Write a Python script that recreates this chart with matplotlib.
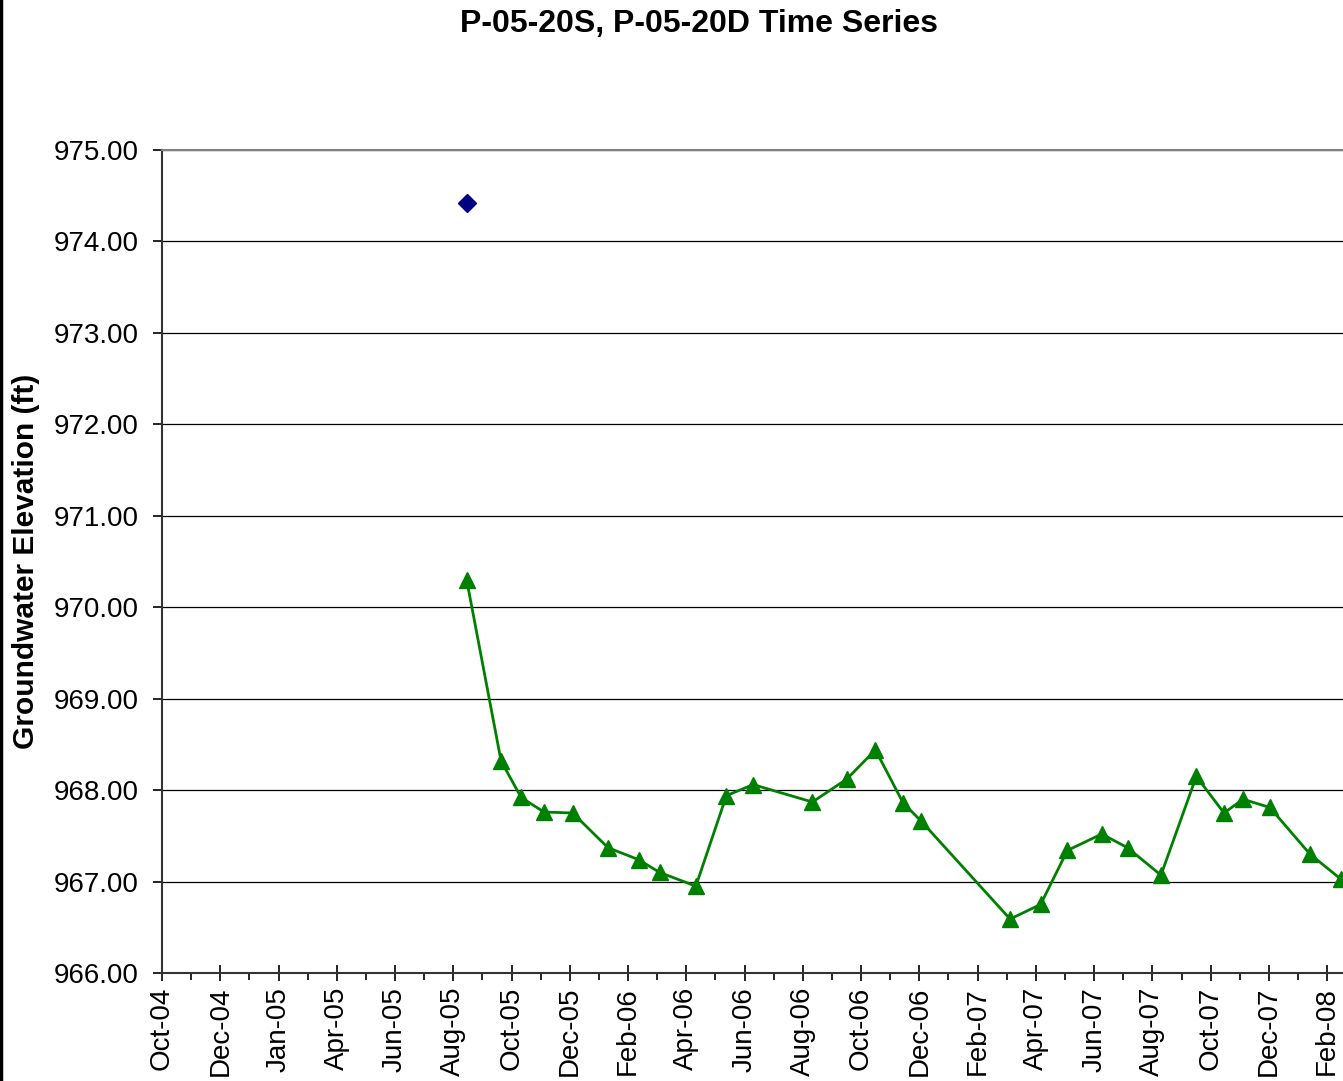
import datetime as dt
import matplotlib
matplotlib.use("Agg")
import matplotlib.pyplot as plt
import matplotlib.dates as mdates
from matplotlib.lines import Line2D

plt.rcParams["font.family"] = ["Liberation Sans", "DejaVu Sans"]

# P-05-20S (single reading)
shallow_dates = ["2005-08-16"]
shallow_elev = [974.42]

# P-05-20D
deep_dates = [
    "2005-08-16", "2005-09-21", "2005-10-12", "2005-11-05", "2005-12-05",
    "2006-01-11", "2006-02-12", "2006-03-06", "2006-04-13", "2006-05-15",
    "2006-06-12", "2006-08-13", "2006-09-18", "2006-10-18", "2006-11-16",
    "2006-12-05", "2007-03-08", "2007-04-09", "2007-05-07", "2007-06-12",
    "2007-07-09", "2007-08-13", "2007-09-19", "2007-10-18", "2007-11-07",
    "2007-12-05", "2008-01-16", "2008-02-17",
]
deep_elev = [
    970.30, 968.32, 967.92, 967.76, 967.75,
    967.37, 967.24, 967.10, 966.95, 967.94,
    968.06, 967.87, 968.12, 968.44, 967.86,
    967.66, 966.59, 966.75, 967.34, 967.52,
    967.37, 967.07, 968.15, 967.75, 967.90,
    967.81, 967.30, 967.03,
]

to_dt = lambda s: dt.datetime.strptime(s, "%Y-%m-%d")

W, H = 1343, 1081
fig = plt.figure(figsize=(W / 100, H / 100), dpi=100)
ax = fig.add_axes([162 / W, 1 - 973 / H, (W - 162) / W + 0.001, (973 - 150) / H])

start = dt.datetime(2004, 10, 1)

# excel-style date axis: major unit 61 days, minor halfway
major = [start + dt.timedelta(days=61 * k) for k in range(21)]
minor = [start + dt.timedelta(days=61 * k + 30.5) for k in range(21)]
ax.set_xticks(mdates.date2num(major))
ax.set_xticks(mdates.date2num(minor), minor=True)
ax.xaxis.set_major_formatter(mdates.DateFormatter("%b-%y"))
ax.set_yticks([966 + i for i in range(10)])
ax.yaxis.set_major_formatter(plt.FuncFormatter(lambda v, p: f"{v:.2f}"))

# limits after ticks, set_xticks would widen them otherwise
ax.set_xlim(start, start + dt.timedelta(days=1238))
ax.set_ylim(966, 975)

ax.tick_params(axis="x", which="major", direction="inout", length=12, width=1.2,
               labelsize=20, rotation=90, pad=4)
ax.tick_params(axis="x", which="minor", direction="out", length=5, width=1.2)
ax.tick_params(axis="y", direction="out", length=6.5, width=1.2, labelsize=20, pad=10.5)

ax.grid(axis="y", color="black", linewidth=0.9)
ax.set_axisbelow(True)
ax.spines["right"].set_visible(False)
ax.spines["top"].set_color("#808080")
ax.spines["top"].set_linewidth(1.5)
for side in ["left", "bottom"]:
    ax.spines[side].set_color("#333333")
    ax.spines[side].set_linewidth(1.5)

ax.plot([to_dt(d) for d in deep_dates], deep_elev, color="#008000", linewidth=2,
        marker="^", markersize=12, clip_on=False, zorder=3)
ax.plot([to_dt(d) for d in shallow_dates], shallow_elev, linestyle="none",
        color="#000080", marker="D", markersize=9, zorder=3)

ax.set_ylabel("Groundwater Elevation (ft)", fontsize=21.5, fontweight="bold", labelpad=9.5)
fig.text(699 / W, 1 - 24 / H, "P-05-20S, P-05-20D Time Series", ha="center", va="center",
         fontsize=23, fontweight="bold")

fig.add_artist(Line2D([1.2 / W, 1.2 / W], [0, 1], color="black", linewidth=2.5,
                      transform=fig.transFigure))

fig.savefig("out.png", dpi=100)
